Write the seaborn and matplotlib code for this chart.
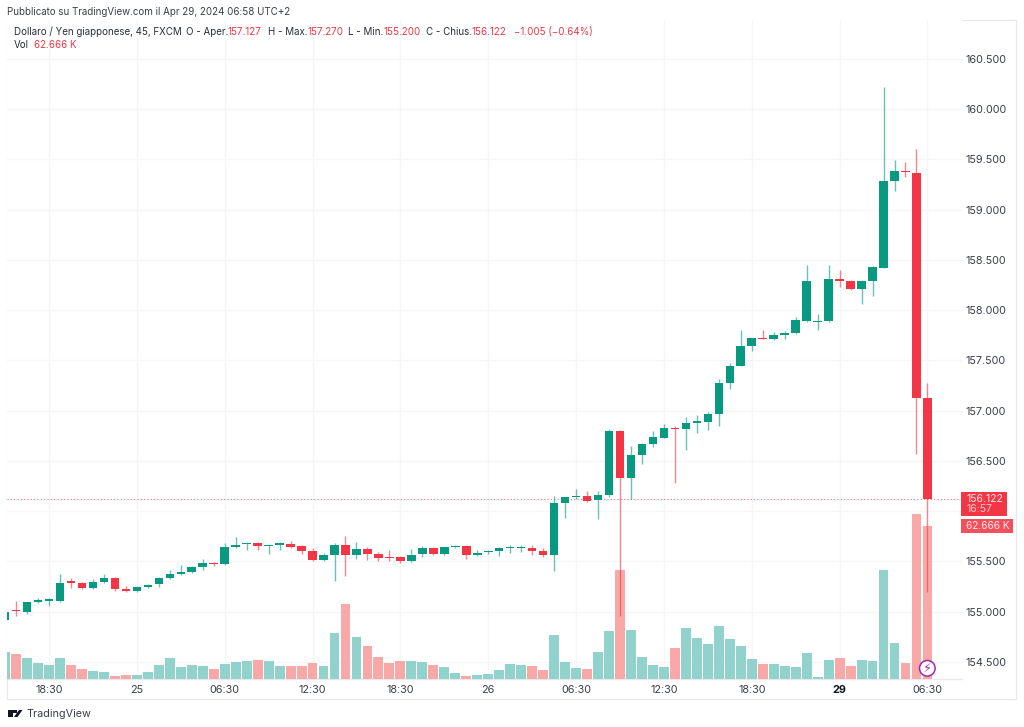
import matplotlib
matplotlib.use("Agg")
import matplotlib.pyplot as plt
from matplotlib.patches import Rectangle, Circle, Polygon, FancyBboxPatch
import numpy as np
import pandas as pd
import seaborn as sns

opens = [154.92,155.02,155.00,155.10,155.11,155.11,155.30,155.29,155.24,155.30,155.34,155.23,155.21,155.25,155.28,155.34,155.38,155.40,155.44,155.48,
         155.47,155.64,155.67,155.68,155.65,155.66,155.67,155.65,155.60,155.51,155.56,155.66,155.56,155.62,155.57,155.54,155.54,155.50,155.57,155.63,
         155.57,155.64,155.65,155.56,155.59,155.60,155.63,155.63,155.63,155.60,155.56,156.08,156.14,156.15,156.11,156.16,156.80,156.33,156.56,156.67,
         156.73,156.83,156.82,156.88,156.89,156.97,157.27,157.44,157.64,157.72,157.71,157.75,157.77,157.89,157.88,157.89,158.31,158.29,158.21,158.29,
         158.42,159.28,159.38,159.36,157.127]
highs = [155.01,155.11,155.10,155.14,155.14,155.38,155.34,155.30,155.33,155.38,155.35,155.26,155.26,155.28,155.35,155.42,155.46,155.45,155.52,155.49,
         155.68,155.74,155.69,155.69,155.66,155.69,155.70,155.66,155.63,155.58,155.68,155.75,155.69,155.64,155.59,155.61,155.55,155.62,155.65,155.64,
         155.64,155.66,155.65,155.61,155.61,155.64,155.66,155.66,155.66,155.63,156.15,156.14,156.22,156.20,156.20,156.82,156.81,156.65,156.68,156.80,
         156.87,156.85,156.94,156.96,156.99,157.31,157.47,157.80,157.72,157.80,157.78,157.79,157.93,158.45,157.96,158.45,158.40,158.30,158.30,158.44,
         160.22,159.49,159.47,159.60,157.270]
lows = [154.91,154.96,154.98,155.09,155.06,155.10,155.24,155.23,155.23,155.29,155.21,155.20,155.20,155.24,155.25,155.33,155.37,155.39,155.42,155.45,
        155.46,155.63,155.61,155.61,155.57,155.61,155.63,155.57,155.50,155.50,155.31,155.36,155.52,155.51,155.50,155.50,155.48,155.49,155.54,155.56,
        155.56,155.63,155.52,155.55,155.57,155.55,155.58,155.59,155.56,155.54,155.41,155.93,156.12,156.09,155.92,156.14,154.96,156.12,156.47,156.64,
        156.73,156.28,156.61,156.78,156.81,156.85,157.22,157.44,157.59,157.71,157.70,157.71,157.76,157.88,157.80,157.88,158.23,158.20,158.06,158.14,
        158.42,159.18,159.32,156.57,155.200]
closes = [155.00,155.01,155.10,155.12,155.12,155.29,155.29,155.24,155.30,155.34,155.23,155.21,155.25,155.27,155.34,155.38,155.40,155.44,155.48,155.47,
          155.64,155.66,155.68,155.65,155.66,155.68,155.64,155.60,155.51,155.56,155.66,155.56,155.62,155.57,155.53,155.53,155.50,155.56,155.63,155.57,
          155.64,155.65,155.56,155.58,155.60,155.63,155.64,155.64,155.60,155.56,156.08,156.14,156.15,156.10,156.16,156.80,156.33,156.56,156.67,156.74,
          156.83,156.82,156.88,156.89,156.97,157.27,157.44,157.64,157.72,157.71,157.75,157.77,157.90,158.29,157.89,158.31,158.29,158.21,158.29,158.43,
          159.28,159.38,159.37,157.127,156.122]
volumes = [10.9,10.0,8.3,6.3,5.7,8.4,5.4,3.9,3.2,2.6,1.0,1.6,1.6,2.7,5.6,8.6,4.6,5.4,5.3,3.9,
           6.0,6.7,7.1,7.5,7.1,5.3,5.3,5.3,6.3,5.1,18.9,30.8,17.0,13.3,8.9,6.3,7.3,7.1,6.8,5.6,
           4.6,2.1,1.0,1.6,1.7,3.5,5.8,5.4,5.0,3.6,17.9,6.8,4.4,3.8,10.9,19.7,44.8,19.8,8.7,5.7,
           4.6,12.6,20.9,16.6,14.2,21.7,16.1,13.5,8.0,6.0,6.0,5.3,4.7,10.4,0.6,7.7,8.4,5.0,7.5,7.2,
           44.5,14.7,6.4,67.6,62.666]
tick_positions = [4,12,20,28,36,44,52,60,68,76,84]
tick_labels = ["18:30","25","06:30","12:30","18:30","26","06:30","12:30","18:30","29","06:30"]
price_ticks = [154.5,155.0,155.5,156.0,156.5,157.0,157.5,158.0,158.5,159.0,159.5,160.0,160.5]

GREEN = "#089981"; RED = "#F23645"; VGREEN = "#92D2CC"; VRED = "#F8A9A7"
FONT = "Inter"; GRID = "#F5F6F8"; FRAME = "#E6E8EE"; TXT = "#3A3E49"

W, H = 1024, 727
def fx(p): return p / W
def fy(p): return 1 - p / H

sns.set_theme(style="white")
plt.rcParams["font.family"] = [FONT, "DejaVu Sans"]
fig = plt.figure(figsize=(W / 100, H / 100), dpi=100, facecolor="white")

L, R, T, B = 7.0, 961.7, 20.0, 678.5
rect = [fx(L), fy(B), (R - L) / W, (B - T) / H]
ax = fig.add_axes(rect)
axv = fig.add_axes(rect, sharex=ax, frameon=False)
axc = fig.add_axes(rect, sharex=ax, sharey=ax, frameon=False)

idx = np.arange(len(closes))
df = pd.DataFrame({"idx": idx, "open": opens, "high": highs, "low": lows, "close": closes, "vol": volumes})
df["dir"] = np.where(df["close"] >= df["open"], "up", "down")

# volume pane
sns.barplot(data=df, x="idx", y="vol", hue="dir", hue_order=["up", "down"],
            palette={"up": VGREEN, "down": VRED}, dodge=False, native_scale=True,
            width=0.9, saturation=1, linewidth=0, legend=False, ax=axv)
axv.set_ylim(0, 271.1)
axv.set(xlabel="", ylabel="")
axv.tick_params(left=False, bottom=False, labelleft=False, labelbottom=False)

# candles
for d, col in (("up", GREEN), ("down", RED)):
    s = df[df["dir"] == d]
    axc.vlines(s["idx"], s["low"], s["high"], color=col, lw=1.0, alpha=0.6, zorder=2)
    bot = s[["open", "close"]].min(axis=1)
    hgt = (s["close"] - s["open"]).abs().clip(lower=0.012)
    axc.bar(s["idx"], hgt, bottom=bot, width=0.78, color=col, edgecolor="none", zorder=3)
axc.tick_params(left=False, bottom=False, labelleft=False, labelbottom=False)
axc.patch.set_visible(False); axv.patch.set_visible(False)

last = closes[-1]
axc.axhline(last, color=RED, lw=0.8, ls=(0, (1, 2)), alpha=0.7, zorder=1)

# price axis and grid
ax.set_xlim(0.173, 87.12)
ax.set_ylim(154.336, 160.885)
ax.set_xticks(tick_positions)
ax.set_xticklabels(tick_labels)
ax.set_yticks(price_ticks)
ax.set_yticklabels([f"{p:.3f}" if p != 156.0 else "" for p in price_ticks])
ax.yaxis.tick_right()
ax.grid(True, color=GRID, lw=1)
ax.set_axisbelow(True)
ax.tick_params(axis="x", length=0, pad=5, labelsize=7.8, labelcolor=TXT)
ax.tick_params(axis="y", length=0, pad=3, labelsize=7.8, labelcolor=TXT)
for lab in ax.get_xticklabels():
    if lab.get_text() == "29":
        lab.set_fontweight("bold")
        lab.set_color("#131722")
for s in ("top", "left", "right"):
    ax.spines[s].set_visible(False)
ax.spines["bottom"].set_color(FRAME)
ax.spines["bottom"].set_linewidth(1)

# outer frame
fig.add_artist(Rectangle((fx(7), fy(699)), (1016 - 7) / W, (699 - 20) / H, transform=fig.transFigure,
                         fill=False, ec=FRAME, lw=0.8, zorder=0))

# header text
def t(x, y, s, color=TXT, size=7.0, **kw):
    return fig.text(fx(x), fy(y), s, color=color, fontsize=size, va="center", ha=kw.pop("ha", "left"), **kw)

t(7, 12, "Pubblicato su TradingView.com il Apr 29, 2024 06:58 UTC+2", color="#3A3E49")
t(14, 32, "Dollaro / Yen giapponese, 45, FXCM", color="#2A2E39")
for x, s in ((186, "O - Aper."), (268, "H - Max."), (348, "L - Min."), (426, "C - Chius.")):
    t(x, 32, s, color="#2A2E39")
for x, s in ((227, "157.127"), (307, "157.270"), (383, "155.200"), (472, "156.122"), (514, "\u22121.005 (\u22120.64%)")):
    t(x, 32, s, color=RED)
t(14, 45.5, "Vol", color="#2A2E39")
t(34, 45.5, "62.666 K", color=RED)

# last-price and volume tags
def tag(x0, x1, y0, y1, color):
    fig.add_artist(FancyBboxPatch((fx(x0), fy(y1)), (x1 - x0) / W, (y1 - y0) / H, transform=fig.transFigure,
                                  boxstyle="square,pad=0", fc=color, ec="none", zorder=5))
tag(960.7, 1007, 491.7, 515.7, RED)
tag(960.7, 1013, 519.3, 532.7, "#F4505C")
t(966.5, 498.5, f"{last:.3f}", color="#FFE6E8", size=7.5, zorder=6)
t(966.5, 509, "16:57", color="#FFC9CD", size=7.5, zorder=6)
t(966.5, 526, f"{volumes[-1]:.3f} K", color="#FFE6E8", size=7.3, zorder=6)

# lightning badge
px, py = 927.3, 668.3
fig.add_artist(Circle((px, H - py), 7.8, transform=None, fc="white", ec="#9C27B0", lw=1.1, zorder=6))
t(px, py, "\u26A1", color="#9C27B0", size=9, ha="center", family="DejaVu Sans", zorder=7)

# logo
logo = "#131722"
fig.add_artist(Rectangle((fx(7.5), fy(717)), 5.5 / W, 7 / H, transform=fig.transFigure, fc=logo, ec="none"))
fig.add_artist(Rectangle((fx(7.5), fy(712.5)), 9 / W, 2.8 / H, transform=fig.transFigure, fc=logo, ec="none"))
fig.add_artist(Circle((15.6, H - 711.5), 1.5, transform=None, fc=logo, ec="none"))
fig.add_artist(Polygon([(fx(14), fy(717)), (fx(19), fy(710)), (fx(22.5), fy(710)), (fx(17.5), fy(717))],
                       transform=fig.transFigure, fc=logo, ec="none"))
t(26, 714, "TradingView", color="#3A3E49", size=7.8)

fig.savefig("out.png", dpi=100)
